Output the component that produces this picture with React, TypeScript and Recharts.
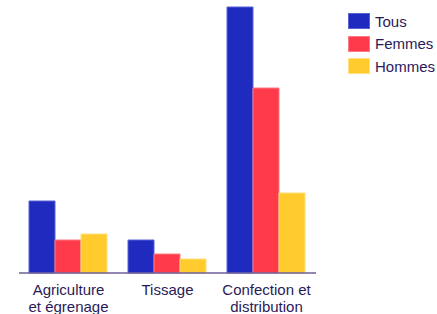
import React from "react";
import { BarChart, Bar, XAxis, YAxis } from "recharts";

const categories = ["Agriculture\net égrenage", "Tissage", "Confection et\ndistribution"];
const tous = [72, 33, 266];
const femmes = [33, 19, 185];
const hommes = [39, 14, 80];

const seriesNames = ["Tous", "Femmes", "Hommes"];
const colors = ["#1f2bbf", "#ff3b4b", "#ffcb2d"];
const strokes = ["#5a63d6", "#ff7a84", "#ffe07a"];

const data = categories.map((c, i) => ({
  name: c,
  Tous: tous[i],
  Femmes: femmes[i],
  Hommes: hommes[i],
}));

const textColor = "#2b1a5a";

const Tick = (props: any) => {
  const { x, y, payload } = props;
  const lines = String(payload.value).split("\n");
  return (
    <text x={x} y={y} textAnchor="middle" fill={textColor} fontSize={15} fontFamily="Liberation Sans, Arial, sans-serif">
      {lines.map((l, i) => (
        <tspan key={i} x={x} dy={i === 0 ? 14 : 17}>
          {l}
        </tspan>
      ))}
    </text>
  );
};

export default function App() {
  return (
    <div style={{ position: "absolute", left: 0, top: 0, width: 437, height: 314 }}>
      <BarChart
        width={437}
        height={314}
        data={data}
        margin={{ top: 7, right: 121, left: 19, bottom: 0 }}
        barCategoryGap={10}
        barGap={0}
      >
        <XAxis
          dataKey="name"
          height={41}
          tick={<Tick />}
          tickLine={false}
          axisLine={{ stroke: "#6e5f98", strokeWidth: 1.5 }}
          interval={0}
        />
        <YAxis hide domain={[0, 266]} />
        {seriesNames.map((n, i) => (
          <Bar key={n} dataKey={n} fill={colors[i]} stroke={strokes[i]} strokeWidth={1} isAnimationActive={false} />
        ))}
      </BarChart>
      <div style={{ position: "absolute", left: 348, top: 10, fontFamily: "Liberation Sans, Arial, sans-serif" }}>
        {seriesNames.map((n, i) => (
          <div key={n} style={{ display: "flex", alignItems: "center", height: 22.5 }}>
            <div
              style={{
                width: 20,
                height: 14,
                background: colors[i],
                border: `1px solid ${strokes[i]}`,
                marginRight: 5,
              }}
            />
            <span style={{ fontSize: 15, color: textColor }}>{n}</span>
          </div>
        ))}
      </div>
    </div>
  );
}
